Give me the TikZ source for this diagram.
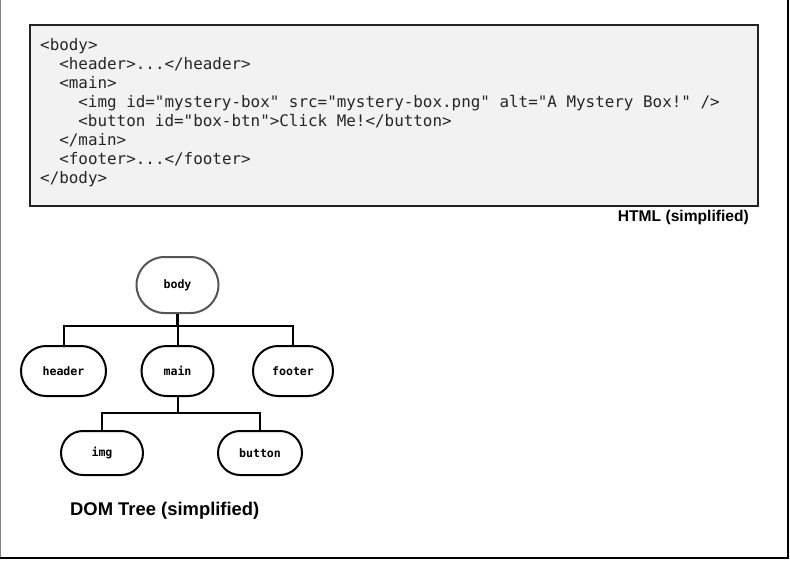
\documentclass[tikz,border=0pt]{standalone}
\usepackage{fontspec}
\usepackage{tikz}
\usetikzlibrary{shapes.misc}
\setmainfont{Liberation Sans}
\newfontfamily\codefont{DejaVu Sans Mono}
\definecolor{codebg}{HTML}{F2F2F2}
\definecolor{codeline}{HTML}{222222}
\definecolor{bodyline}{HTML}{555555}
\tikzset{
  codetext/.style={anchor=base west, inner sep=0pt, text=black!85,
    font=\codefont\fontsize{15.9}{19}\selectfont},
  tag/.style={shape=rounded rectangle, draw, line width=2pt, inner sep=0pt,
    minimum height=50pt, font=\codefont\bfseries\fontsize{11.6}{13}\selectfont},
  branch/.style={line width=2pt}
}
\begin{document}
\begin{tikzpicture}[x=1pt, y=-1pt]
      \useasboundingbox (0,0) rectangle (790,560);
      % outer frame
      \draw[gray, line width=1pt] (0.5,0) -- (0.5,558);
      \draw[line width=2pt] (788,0) -- (788,558) -- (0,558);
      % code box
      \draw[codeline, fill=codebg, line width=1.8pt] (30,25) rectangle (758,206);
      \node[codetext] (l1) at (40,50) {<body>};
      \node[codetext] (l2) at (59.1,69) {<header>...</header>};
      \node[codetext] (l3) at (59.1,88) {<main>};
      \node[codetext] (l4) at (78.2,107) {<img id="mystery-box" src="mystery-box.png" alt="A Mystery Box!" />};
      \node[codetext] (l5) at (78.2,126) {<button id="box-btn">Click Me!</button>};
      \node[codetext] (l6) at (59.1,145) {</main>};
      \node[codetext] (l7) at (59.1,164) {<footer>...</footer>};
      \node[codetext] (l8) at (40,183) {</body>};
      \node[anchor=base east, inner sep=0pt, font=\bfseries\fontsize{15.6}{18}\selectfont] (htmlcap) at (749,221) {HTML (simplified)};
      % DOM tree
      \node[tag, draw=bodyline, minimum width=82pt, minimum height=56pt] (body) at (177.5,285) {body};
      \node[tag, minimum width=85pt] (header) at (63.5,371) {header};
      \node[tag, minimum width=72pt] (main) at (177.5,371) {main};
      \node[tag, minimum width=80pt] (footer) at (293,371) {footer};
      \node[tag, minimum width=82pt, minimum height=44pt] (img) at (102,453) {img};
      \node[tag, minimum width=84pt, minimum height=44pt] (button) at (260,453) {button};
      \coordinate (split1) at (177.5,326);
      \coordinate (split2) at (177.5,413);
      \draw[branch, line width=2.6pt] (body) -- (split1);
      \draw[branch] (header.north) |- (split1) -| (footer.north);
      \draw[branch] (split1) -- (main);
      \draw[branch] (main) -- (split2);
      \draw[branch] (img.north) |- (split2) -| (button.north);
      \node[anchor=base west, inner sep=0pt, font=\bfseries\fontsize{18.4}{22}\selectfont] (domcap) at (70,515.5) {DOM Tree (simplified)};
    \end{tikzpicture}
\end{document}
